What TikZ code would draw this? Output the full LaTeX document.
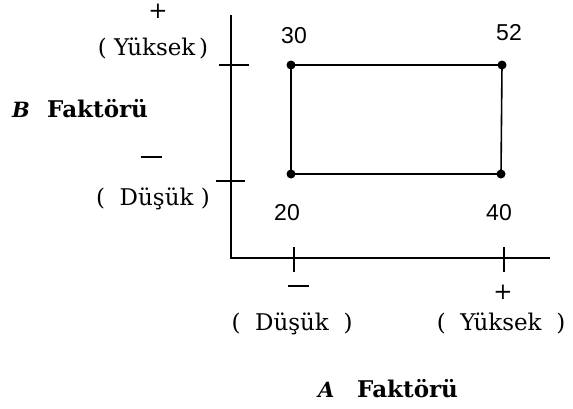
\documentclass[tikz,border=0pt]{standalone}
\usepackage{fontspec}
\setmainfont{DejaVu Serif}
\newfontfamily\numfont{Liberation Sans}
\newcommand{\mydash}{\rule[0.25em]{21pt}{1.3pt}}
\begin{document}
\begin{tikzpicture}[x=1pt,y=-1pt,
  ax/.style={line width=1.6pt},
  edge/.style={line width=1.6pt},
  corner/.style={circle,fill=black,inner sep=0pt,minimum size=9pt},
  lbl/.style={inner sep=0pt,anchor=base,font=\fontsize{23}{26}\selectfont},
  sgn/.style={inner sep=0pt,font=\fontsize{23}{26}\selectfont},
  num/.style={inner sep=0pt,anchor=base,font=\numfont\fontsize{23}{26}\selectfont},
  ttl/.style={inner sep=0pt,anchor=base west,font=\bfseries\fontsize{23}{26}\selectfont},
  ltr/.style={inner sep=0pt,anchor=base west,font=\bfseries\itshape\fontsize{21}{24}\selectfont}]
\useasboundingbox (0,0) rectangle (573,408);
% axes
\coordinate (top) at (231,15);
\coordinate (orig) at (231,258);
\coordinate (right) at (550,258);
\draw[ax] (top) -- (orig) -- (right);
% ticks
\coordinate (yt1a) at (219,65); \coordinate (yt1b) at (249,65);
\coordinate (yt2a) at (216,181); \coordinate (yt2b) at (245,181);
\coordinate (xt1a) at (294,247); \coordinate (xt1b) at (294,272);
\coordinate (xt2a) at (504,247); \coordinate (xt2b) at (504,272);
\draw[ax] (yt1a) -- (yt1b);
\draw[ax] (yt2a) -- (yt2b);
\draw[ax] (xt1a) -- (xt1b);
\draw[ax] (xt2a) -- (xt2b);
% rectangle corners
\node[corner] (ll) at (291,174) {};
\node[corner] (lr) at (501,174) {};
\node[corner] (ul) at (291,65) {};
\node[corner] (ur) at (502,65) {};
\draw[edge] (ul.center) -- (ur.center) -- (lr.center) -- (ll.center) -- cycle;
% numbers
\node[num] (n30) at (294,43) {30};
\node[num] (n52) at (509,40) {52};
\node[num] (n20) at (287,220) {20};
\node[num] (n40) at (499,220) {40};
% B axis labels
\node[sgn] (bplus) at (158,11) {+};
\node[lbl] (byuk) at (153,55) {(\ Yüksek\,)};
\node[sgn] (bminus) at (151,160) {\mydash};
\node[lbl] (bdus) at (153,205) {(\ \ Düşük\ )};
\node[ltr] (bl) at (12,117) {B};
\node[ttl] (bfak) at (47,117) {Faktörü};
% A axis labels
\node[sgn] (aminus) at (298,289) {\mydash};
\node[lbl] (adus) at (292,330) {(\ \ Düşük\ \ )};
\node[sgn] (aplus) at (503,292) {+};
\node[lbl] (ayuk) at (501,330) {(\ \ Yüksek\ \ )};
\node[ltr] (al) at (318,397) {A};
\node[ttl] (afak) at (357,397) {Faktörü};
\end{tikzpicture}
\end{document}
